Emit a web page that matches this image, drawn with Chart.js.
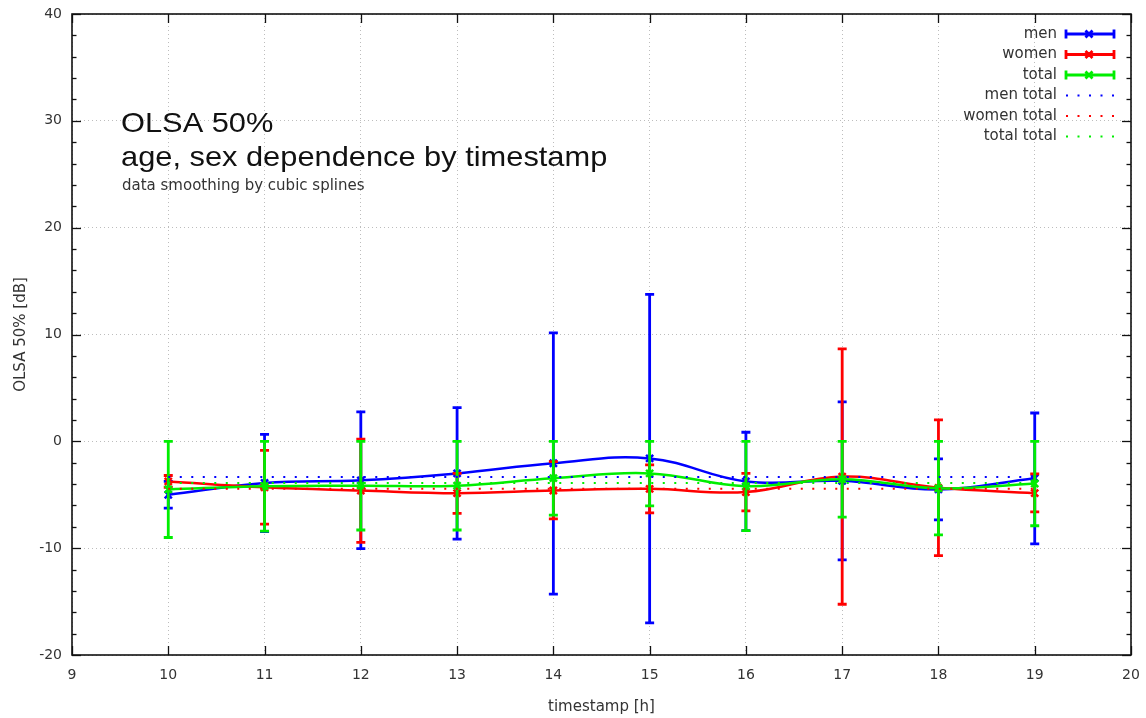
<!DOCTYPE html>
<html><head><meta charset="utf-8">
<script src="https://cdn.jsdelivr.net/npm/chart.js@4/dist/chart.umd.min.js"></script>
<style>html,body{margin:0;padding:0;background:#fff;}canvas{display:block;}</style>
</head><body>
<canvas id="c" width="1146" height="718"></canvas>
<script>
// ---- data ----
const hours = [10, 11, 12, 13, 14, 15, 16, 17, 18, 19];

const menValue = [-5.0, -3.9, -3.65, -3.0, -2.05, -1.6, -3.75, -3.7, -4.5, -3.45];
const menLow   = [-6.25, -8.45, -10.05, -9.15, -14.3, -17.0, -8.35, -11.1, -7.35, -9.6];
const menHigh  = [-3.75, 0.65, 2.75, 3.15, 10.15, 13.75, 0.85, 3.7, -1.65, 2.65];

const womenValue = [-3.75, -4.3, -4.6, -4.85, -4.6, -4.45, -4.75, -3.3, -4.35, -4.85];
const womenLow   = [-4.3, -7.75, -9.45, -6.75, -7.25, -6.7, -6.5, -15.25, -10.7, -6.6];
const womenHigh  = [-3.2, -0.85, 0.2, -3.0, -1.9, -2.2, -3.0, 8.65, 2.0, -3.05];

const totalValue = [-4.5, -4.2, -4.15, -4.15, -3.45, -3.0, -4.2, -3.55, -4.4, -3.95];
const totalLow   = [-9.0, -8.4, -8.3, -8.3, -6.9, -6.05, -8.35, -7.1, -8.75, -7.9];
const totalHigh  = [0, 0, 0, 0, 0, 0, 0, 0, 0, 0];

const menTotal = -3.35;
const womenTotal = -4.45;
const totalTotal = -3.9;

const xRange = [9, 20];
const yRange = [-20, 40];

const titleLines = ['OLSA 50%', 'age, sex dependence by timestamp'];
const subtitle = 'data smoothing by cubic splines';
const xTitle = 'timestamp [h]';
const yTitle = 'OLSA 50% [dB]';
const legendLabels = ['men', 'women', 'total', 'men total', 'women total', 'total total'];

// ---- styling ----
const BLUE = '#0000ff', RED = '#ff0000', GREEN = '#00ee00';
const TXT = '#333333';
const SANS = '"DejaVu Sans", Verdana, sans-serif';
const AREA = {left: 72, top: 14, right: 1131, bottom: 655};

const pts = (vals) => hours.map((h, i) => ({x: h, y: vals[i]}));
const flat = (v) => [{x: hours[0], y: v}, {x: hours[hours.length - 1], y: v}];

function seriesDS(label, vals, lo, hi, color, order) {
  return {
    label, data: pts(vals), errLow: lo, errHigh: hi,
    borderColor: color, backgroundColor: color, borderWidth: 2.5,
    tension: 0.4, pointStyle: 'crossRot', pointRadius: 5, pointBorderWidth: 2.5,
    pointBorderColor: color, pointHoverRadius: 5, order, fill: false
  };
}
function avgDS(label, v, color, order) {
  return {
    label, data: flat(v), borderColor: color, borderWidth: 2, borderDash: [2, 9.5],
    pointRadius: 0, tension: 0, order, fill: false
  };
}

const errorBars = {
  id: 'errorBars',
  afterDatasetDraw(chart, args) {
    const ds = chart.data.datasets[args.index];
    if (!ds.errLow) return;
    const ctx = chart.ctx, xs = chart.scales.x, ys = chart.scales.y;
    ctx.save();
    ctx.strokeStyle = ds.borderColor;
    ctx.lineWidth = 2.8;
    ctx.lineCap = 'butt';
    ds.data.forEach((p, i) => {
      const px = xs.getPixelForValue(p.x);
      const yl = ys.getPixelForValue(ds.errLow[i]);
      const yh = ys.getPixelForValue(ds.errHigh[i]);
      ctx.beginPath();
      ctx.moveTo(px, yl); ctx.lineTo(px, yh);
      ctx.moveTo(px - 4.5, yl); ctx.lineTo(px + 4.5, yl);
      ctx.moveTo(px - 4.5, yh); ctx.lineTo(px + 4.5, yh);
      ctx.stroke();
    });
    ctx.restore();
  }
};

const frameTicks = {
  id: 'frameTicks',
  beforeDatasetsDraw(chart) {
    const {ctx, chartArea: {left, right, top, bottom}, scales: {x, y}} = chart;
    ctx.save();
    ctx.strokeStyle = '#111';
    ctx.lineWidth = 1.3;
    const seg = (a, b, c, d) => { ctx.beginPath(); ctx.moveTo(a, b); ctx.lineTo(c, d); ctx.stroke(); };
    x.ticks.forEach(t => {
      const px = Math.round(x.getPixelForValue(t.value)) + 0.5;
      seg(px, bottom, px, bottom - 9);
      seg(px, top, px, top + 9);
    });
    y.ticks.forEach(t => {
      const py = Math.round(y.getPixelForValue(t.value)) + 0.5;
      seg(left, py, left + 9, py);
      seg(right, py, right - 9, py);
    });
    for (let v = yRange[0]; v <= yRange[1]; v += 2) {
      if (v % 10 === 0) continue;
      const py = Math.round(y.getPixelForValue(v)) + 0.5;
      seg(left, py, left + 4.5, py);
      seg(right, py, right - 4.5, py);
    }
    ctx.lineWidth = 1.6;
    ctx.strokeRect(left, top, right - left, bottom - top);
    ctx.restore();
  }
};

const texts = {
  id: 'texts',
  afterDraw(chart) {
    const ctx = chart.ctx;
    ctx.save();
    // title (reference glyphs are slightly wide)
    ctx.fillStyle = '#111';
    ctx.textAlign = 'left';
    ctx.textBaseline = 'alphabetic';
    ctx.font = '28px "Liberation Sans", Arial, sans-serif';
    ctx.save(); ctx.translate(121, 132); ctx.scale(1.1, 1); ctx.fillText(titleLines[0], 0, 0); ctx.restore();
    ctx.save(); ctx.translate(121, 166); ctx.scale(1.1, 1); ctx.fillText(titleLines[1], 0, 0); ctx.restore();
    ctx.fillStyle = TXT;
    ctx.font = '15px ' + SANS;
    ctx.fillText(subtitle, 122, 190);

    // legend
    const colors = [BLUE, RED, GREEN, BLUE, RED, GREEN];
    const rows = [34, 54.5, 75, 95.5, 116, 136.5];
    const x0 = 1066, x1 = 1114;
    ctx.font = '15px ' + SANS;
    ctx.textAlign = 'right';
    ctx.textBaseline = 'middle';
    legendLabels.forEach((lab, i) => {
      const yy = rows[i];
      ctx.fillStyle = TXT;
      ctx.fillText(lab, 1057, yy);
      ctx.strokeStyle = colors[i];
      if (i < 3) {
        ctx.lineWidth = 2.8;
        ctx.setLineDash([]);
        ctx.beginPath();
        ctx.moveTo(x0, yy); ctx.lineTo(x1, yy);
        ctx.moveTo(x0, yy - 4.5); ctx.lineTo(x0, yy + 4.5);
        ctx.moveTo(x1, yy - 4.5); ctx.lineTo(x1, yy + 4.5);
        const mx = (x0 + x1) / 2 - 1, r = 3.5;
        ctx.moveTo(mx - r, yy - r); ctx.lineTo(mx + r, yy + r);
        ctx.moveTo(mx - r, yy + r); ctx.lineTo(mx + r, yy - r);
        ctx.stroke();
      } else {
        ctx.lineWidth = 2;
        ctx.setLineDash([2, 9.5]);
        ctx.beginPath();
        ctx.moveTo(x0, yy); ctx.lineTo(x1, yy);
        ctx.stroke();
        ctx.setLineDash([]);
      }
    });
    ctx.restore();
  }
};

const tickFont = {family: SANS, size: 14};
const titleFont = {family: SANS, size: 15};
const NOCOLOR = 'rgba(0,0,0,0)';

const chart = new Chart(document.getElementById('c'), {
  type: 'line',
  data: {
    datasets: [
      seriesDS(legendLabels[0], menValue, menLow, menHigh, BLUE, 6),
      seriesDS(legendLabels[1], womenValue, womenLow, womenHigh, RED, 5),
      seriesDS(legendLabels[2], totalValue, totalLow, totalHigh, GREEN, 4),
      avgDS(legendLabels[3], menTotal, BLUE, 3),
      avgDS(legendLabels[4], womenTotal, RED, 2),
      avgDS(legendLabels[5], totalTotal, GREEN, 1)
    ]
  },
  options: {
    responsive: false, animation: false, devicePixelRatio: 1,
    layout: {padding: {top: 14, right: 15, left: 0, bottom: 0}, autoPadding: false},
    plugins: {legend: {display: false}, tooltip: {enabled: false}},
    scales: {
      x: {
        type: 'linear', min: xRange[0], max: xRange[1],
        ticks: {stepSize: 1, padding: 0, font: tickFont, color: TXT, maxRotation: 0, autoSkip: false},
        grid: {color: '#bdbdbd', lineWidth: 1, drawTicks: true, tickLength: 12, tickColor: NOCOLOR},
        border: {display: false, dash: [1, 3]},
        title: {display: true, text: xTitle, font: titleFont, color: TXT, padding: {top: 0, bottom: 2}},
        afterFit(s) { s.height = 63; }
      },
      y: {
        type: 'linear', min: yRange[0], max: yRange[1],
        ticks: {stepSize: 10, padding: 0, font: tickFont, color: TXT},
        grid: {color: '#bdbdbd', lineWidth: 1, drawTicks: true, tickLength: 10, tickColor: NOCOLOR},
        border: {display: false, dash: [1, 3]},
        title: {display: true, text: yTitle, font: titleFont, color: TXT, padding: {top: 12, bottom: 0}},
        afterFit(s) { s.width = 72; }
      }
    }
  },
  plugins: [frameTicks, errorBars, texts]
});

// nudge layout padding so the plot frame lands where the reference has it
for (let k = 0; k < 3; k++) {
  const ca = chart.chartArea;
  const p = chart.options.layout.padding;
  const np = {
    left: p.left + (AREA.left - ca.left),
    top: p.top + (AREA.top - ca.top),
    right: p.right + (ca.right - AREA.right),
    bottom: p.bottom + (ca.bottom - AREA.bottom)
  };
  if (np.left === p.left && np.top === p.top && np.right === p.right && np.bottom === p.bottom) break;
  chart.options.layout.padding = np;
  chart.update();
}
</script>
</body></html>
